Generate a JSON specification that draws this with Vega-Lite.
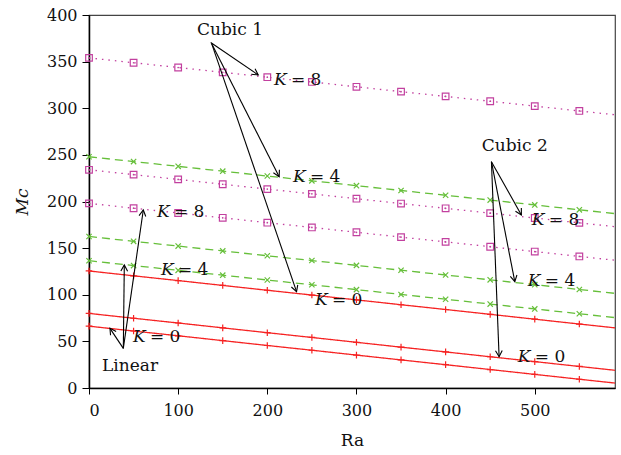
{
  "$schema": "https://vega.github.io/schema/vega-lite/v6.json",
  "width": 526,
  "height": 373,
  "autosize": {"type": "none"},
  "padding": {"left": 89, "top": 15, "right": 6, "bottom": 67},
  "config": {
    "font": "DejaVu Serif",
    "view": {"stroke": "#444444", "strokeWidth": 1.2},
    "axis": {"grid": false, "domainColor": "#000000", "domainWidth": 1.5, "tickColor": "#000000", "labelFont": "DejaVu Serif", "titleFont": "DejaVu Serif", "labelFontSize": 16, "titleFontSize": 17, "labelColor": "#111111", "titleColor": "#111111", "titleFontWeight": "normal"}
  },
  "datasets": {
    "curves": [
      {"Ra": 0, "Mc": 125.5, "K": 0, "g": "L0"}, {"Ra": 50, "Mc": 120.3, "K": 0, "g": "L0"}, {"Ra": 100, "Mc": 115.2, "K": 0, "g": "L0"}, {"Ra": 150, "Mc": 110, "K": 0, "g": "L0"}, {"Ra": 200, "Mc": 104.8, "K": 0, "g": "L0"}, {"Ra": 250, "Mc": 99.7, "K": 0, "g": "L0"}, {"Ra": 300, "Mc": 94.5, "K": 0, "g": "L0"}, {"Ra": 350, "Mc": 89.3, "K": 0, "g": "L0"}, {"Ra": 400, "Mc": 84.2, "K": 0, "g": "L0"}, {"Ra": 450, "Mc": 79, "K": 0, "g": "L0"}, {"Ra": 500, "Mc": 73.8, "K": 0, "g": "L0"}, {"Ra": 550, "Mc": 68.6, "K": 0, "g": "L0"}, {"Ra": 590, "Mc": 64.5, "K": 0, "g": "L0"},
      {"Ra": 0, "Mc": 80, "K": 0, "g": "C20"}, {"Ra": 50, "Mc": 74.8, "K": 0, "g": "C20"}, {"Ra": 100, "Mc": 69.7, "K": 0, "g": "C20"}, {"Ra": 150, "Mc": 64.5, "K": 0, "g": "C20"}, {"Ra": 200, "Mc": 59.3, "K": 0, "g": "C20"}, {"Ra": 250, "Mc": 54.2, "K": 0, "g": "C20"}, {"Ra": 300, "Mc": 49, "K": 0, "g": "C20"}, {"Ra": 350, "Mc": 43.8, "K": 0, "g": "C20"}, {"Ra": 400, "Mc": 38.7, "K": 0, "g": "C20"}, {"Ra": 450, "Mc": 33.5, "K": 0, "g": "C20"}, {"Ra": 500, "Mc": 28.3, "K": 0, "g": "C20"}, {"Ra": 550, "Mc": 23.1, "K": 0, "g": "C20"}, {"Ra": 590, "Mc": 19, "K": 0, "g": "C20"},
      {"Ra": 0, "Mc": 66.3, "K": 0, "g": "C30"}, {"Ra": 50, "Mc": 61.1, "K": 0, "g": "C30"}, {"Ra": 100, "Mc": 56, "K": 0, "g": "C30"}, {"Ra": 150, "Mc": 50.8, "K": 0, "g": "C30"}, {"Ra": 200, "Mc": 45.6, "K": 0, "g": "C30"}, {"Ra": 250, "Mc": 40.5, "K": 0, "g": "C30"}, {"Ra": 300, "Mc": 35.3, "K": 0, "g": "C30"}, {"Ra": 350, "Mc": 30.1, "K": 0, "g": "C30"}, {"Ra": 400, "Mc": 25, "K": 0, "g": "C30"}, {"Ra": 450, "Mc": 19.8, "K": 0, "g": "C30"}, {"Ra": 500, "Mc": 14.6, "K": 0, "g": "C30"}, {"Ra": 550, "Mc": 9.4, "K": 0, "g": "C30"}, {"Ra": 590, "Mc": 5.3, "K": 0, "g": "C30"},
      {"Ra": 0, "Mc": 248, "K": 4, "g": "A4"}, {"Ra": 50, "Mc": 242.8, "K": 4, "g": "A4"}, {"Ra": 100, "Mc": 237.7, "K": 4, "g": "A4"}, {"Ra": 150, "Mc": 232.5, "K": 4, "g": "A4"}, {"Ra": 200, "Mc": 227.3, "K": 4, "g": "A4"}, {"Ra": 250, "Mc": 222.2, "K": 4, "g": "A4"}, {"Ra": 300, "Mc": 217, "K": 4, "g": "A4"}, {"Ra": 350, "Mc": 211.8, "K": 4, "g": "A4"}, {"Ra": 400, "Mc": 206.7, "K": 4, "g": "A4"}, {"Ra": 450, "Mc": 201.5, "K": 4, "g": "A4"}, {"Ra": 500, "Mc": 196.3, "K": 4, "g": "A4"}, {"Ra": 550, "Mc": 191.1, "K": 4, "g": "A4"}, {"Ra": 590, "Mc": 187, "K": 4, "g": "A4"},
      {"Ra": 0, "Mc": 162.5, "K": 4, "g": "B4"}, {"Ra": 50, "Mc": 157.3, "K": 4, "g": "B4"}, {"Ra": 100, "Mc": 152.2, "K": 4, "g": "B4"}, {"Ra": 150, "Mc": 147, "K": 4, "g": "B4"}, {"Ra": 200, "Mc": 141.8, "K": 4, "g": "B4"}, {"Ra": 250, "Mc": 136.7, "K": 4, "g": "B4"}, {"Ra": 300, "Mc": 131.5, "K": 4, "g": "B4"}, {"Ra": 350, "Mc": 126.3, "K": 4, "g": "B4"}, {"Ra": 400, "Mc": 121.2, "K": 4, "g": "B4"}, {"Ra": 450, "Mc": 116, "K": 4, "g": "B4"}, {"Ra": 500, "Mc": 110.8, "K": 4, "g": "B4"}, {"Ra": 550, "Mc": 105.6, "K": 4, "g": "B4"}, {"Ra": 590, "Mc": 101.5, "K": 4, "g": "B4"},
      {"Ra": 0, "Mc": 136.5, "K": 4, "g": "C4"}, {"Ra": 50, "Mc": 131.3, "K": 4, "g": "C4"}, {"Ra": 100, "Mc": 126.2, "K": 4, "g": "C4"}, {"Ra": 150, "Mc": 121, "K": 4, "g": "C4"}, {"Ra": 200, "Mc": 115.8, "K": 4, "g": "C4"}, {"Ra": 250, "Mc": 110.7, "K": 4, "g": "C4"}, {"Ra": 300, "Mc": 105.5, "K": 4, "g": "C4"}, {"Ra": 350, "Mc": 100.3, "K": 4, "g": "C4"}, {"Ra": 400, "Mc": 95.2, "K": 4, "g": "C4"}, {"Ra": 450, "Mc": 90, "K": 4, "g": "C4"}, {"Ra": 500, "Mc": 84.8, "K": 4, "g": "C4"}, {"Ra": 550, "Mc": 79.6, "K": 4, "g": "C4"}, {"Ra": 590, "Mc": 75.5, "K": 4, "g": "C4"},
      {"Ra": 0, "Mc": 354, "K": 8, "g": "A8"}, {"Ra": 50, "Mc": 348.8, "K": 8, "g": "A8"}, {"Ra": 100, "Mc": 343.7, "K": 8, "g": "A8"}, {"Ra": 150, "Mc": 338.5, "K": 8, "g": "A8"}, {"Ra": 200, "Mc": 333.3, "K": 8, "g": "A8"}, {"Ra": 250, "Mc": 328.2, "K": 8, "g": "A8"}, {"Ra": 300, "Mc": 323, "K": 8, "g": "A8"}, {"Ra": 350, "Mc": 317.8, "K": 8, "g": "A8"}, {"Ra": 400, "Mc": 312.7, "K": 8, "g": "A8"}, {"Ra": 450, "Mc": 307.5, "K": 8, "g": "A8"}, {"Ra": 500, "Mc": 302.3, "K": 8, "g": "A8"}, {"Ra": 550, "Mc": 297.1, "K": 8, "g": "A8"}, {"Ra": 590, "Mc": 293, "K": 8, "g": "A8"},
      {"Ra": 0, "Mc": 234, "K": 8, "g": "B8"}, {"Ra": 50, "Mc": 228.8, "K": 8, "g": "B8"}, {"Ra": 100, "Mc": 223.7, "K": 8, "g": "B8"}, {"Ra": 150, "Mc": 218.5, "K": 8, "g": "B8"}, {"Ra": 200, "Mc": 213.3, "K": 8, "g": "B8"}, {"Ra": 250, "Mc": 208.2, "K": 8, "g": "B8"}, {"Ra": 300, "Mc": 203, "K": 8, "g": "B8"}, {"Ra": 350, "Mc": 197.8, "K": 8, "g": "B8"}, {"Ra": 400, "Mc": 192.7, "K": 8, "g": "B8"}, {"Ra": 450, "Mc": 187.5, "K": 8, "g": "B8"}, {"Ra": 500, "Mc": 182.3, "K": 8, "g": "B8"}, {"Ra": 550, "Mc": 177.1, "K": 8, "g": "B8"}, {"Ra": 590, "Mc": 173, "K": 8, "g": "B8"},
      {"Ra": 0, "Mc": 198, "K": 8, "g": "C8"}, {"Ra": 50, "Mc": 192.8, "K": 8, "g": "C8"}, {"Ra": 100, "Mc": 187.7, "K": 8, "g": "C8"}, {"Ra": 150, "Mc": 182.5, "K": 8, "g": "C8"}, {"Ra": 200, "Mc": 177.3, "K": 8, "g": "C8"}, {"Ra": 250, "Mc": 172.2, "K": 8, "g": "C8"}, {"Ra": 300, "Mc": 167, "K": 8, "g": "C8"}, {"Ra": 350, "Mc": 161.8, "K": 8, "g": "C8"}, {"Ra": 400, "Mc": 156.7, "K": 8, "g": "C8"}, {"Ra": 450, "Mc": 151.5, "K": 8, "g": "C8"}, {"Ra": 500, "Mc": 146.3, "K": 8, "g": "C8"}, {"Ra": 550, "Mc": 141.1, "K": 8, "g": "C8"}, {"Ra": 590, "Mc": 137, "K": 8, "g": "C8"}
    ],
    "arrows": [
      {"x1": 136.5, "y1": 370.5, "x2": 189.8, "y2": 335.7},
      {"x1": 137.5, "y1": 369.5, "x2": 213.3, "y2": 226.6},
      {"x1": 137.5, "y1": 369.5, "x2": 232.8, "y2": 103.3},
      {"x1": 38.5, "y1": 42.5, "x2": 23.5, "y2": 64},
      {"x1": 38.5, "y1": 42.5, "x2": 39.6, "y2": 131.9},
      {"x1": 38.5, "y1": 42.5, "x2": 60.9, "y2": 190.9},
      {"x1": 451.4, "y1": 242.7, "x2": 485, "y2": 185.5},
      {"x1": 451.4, "y1": 242.7, "x2": 477.6, "y2": 114},
      {"x1": 451.4, "y1": 242.7, "x2": 460, "y2": 33.6}
    ],
    "titles": [
      {"x": 158.1, "y": 384, "t": "Cubic 1"},
      {"x": 46, "y": 24.1, "t": "Linear"},
      {"x": 477.6, "y": 259.5, "t": "Cubic 2"}
    ],
    "klabels": [
      {"x": 207.4, "y": 330.3, "lab": "= 8"},
      {"x": 228.7, "y": 226.3, "lab": "= 4"},
      {"x": 253.4, "y": 94.4, "lab": "= 0"},
      {"x": 76.2, "y": 188.7, "lab": "= 8"},
      {"x": 80.7, "y": 126.5, "lab": "= 4"},
      {"x": 49.3, "y": 54.7, "lab": "= 0"},
      {"x": 496.6, "y": 180.2, "lab": "= 8"},
      {"x": 492.2, "y": 114.7, "lab": "= 4"},
      {"x": 481, "y": 33.2, "lab": "= 0"}
    ]
  },
  "layer": [
    {
      "data": {"name": "curves"},
      "mark": {"type": "line", "strokeWidth": 1.3, "clip": true},
      "encoding": {
        "x": {"field": "Ra", "type": "quantitative", "scale": {"domain": [0, 590], "nice": false}, "axis": {"title": "Ra", "values": [0, 100, 200, 300, 400, 500], "tickSize": 6, "labelPadding": 8, "titlePadding": 14}},
        "y": {"field": "Mc", "type": "quantitative", "scale": {"domain": [0, 400], "nice": false}, "axis": {"title": "Mc", "titleFontStyle": "italic", "values": [0, 50, 100, 150, 200, 250, 300, 350, 400], "tickSize": 7, "labelPadding": 5, "titlePadding": 15}},
        "color": {"field": "K", "type": "nominal", "scale": {"domain": [0, 4, 8], "range": ["#f62222", "#66bf3a", "#c2409f"]}, "legend": null},
        "strokeDash": {"field": "K", "type": "nominal", "scale": {"domain": [0, 4, 8], "range": [[1, 0], [8, 5], [1.5, 5]]}, "legend": null},
        "detail": {"field": "g"}
      }
    },
    {
      "data": {"name": "curves"},
      "transform": [{"filter": "datum.Ra <= 550"}],
      "mark": {"type": "point", "filled": false, "strokeWidth": 1.2, "size": 44, "opacity": 1},
      "encoding": {
        "x": {"field": "Ra", "type": "quantitative", "title": "Ra"},
        "y": {"field": "Mc", "type": "quantitative", "title": "Mc"},
        "color": {"field": "K", "type": "nominal", "scale": {"domain": [0, 4, 8], "range": ["#f62222", "#66bf3a", "#c2409f"]}, "legend": null},
        "shape": {"field": "K", "type": "nominal", "scale": {"domain": [0, 4, 8], "range": ["M-1,0L1,0M0,-1L0,1", "M-0.8,-0.8L0.8,0.8M-0.8,0.8L0.8,-0.8", "M-1,-1L1,-1L1,1L-1,1Z"]}, "legend": null}
      }
    },
    {
      "data": {"name": "curves"},
      "transform": [{"filter": "datum.Ra <= 550 && datum.K == 8"}],
      "mark": {"type": "point", "filled": true, "size": 3, "color": "#c2409f", "opacity": 1},
      "encoding": {
        "x": {"field": "Ra", "type": "quantitative", "title": "Ra"},
        "y": {"field": "Mc", "type": "quantitative", "title": "Mc"}
      }
    },
    {
      "data": {"name": "arrows"},
      "mark": {"type": "rule", "color": "#000000", "strokeWidth": 1.1},
      "encoding": {
        "x": {"field": "x1", "type": "quantitative", "title": "Ra"},
        "y": {"field": "y1", "type": "quantitative", "title": "Mc"},
        "x2": {"field": "x2"},
        "y2": {"field": "y2"}
      }
    },
    {
      "data": {"name": "arrows"},
      "transform": [{"calculate": "atan2((datum.x2 - datum.x1) * 0.892, (datum.y2 - datum.y1) * 0.9325) * 180 / PI", "as": "ang"}],
      "mark": {"type": "point", "shape": "M-0.55,1L0,0L0.55,1", "filled": false, "size": 150, "color": "#000000", "strokeWidth": 1.1, "opacity": 1},
      "encoding": {
        "x": {"field": "x2", "type": "quantitative", "title": "Ra"},
        "y": {"field": "y2", "type": "quantitative", "title": "Mc"},
        "angle": {"field": "ang", "type": "quantitative", "scale": null}
      }
    },
    {
      "data": {"name": "titles"},
      "mark": {"type": "text", "fontSize": 17, "align": "center", "baseline": "middle", "color": "#111111"},
      "encoding": {
        "x": {"field": "x", "type": "quantitative", "title": "Ra"},
        "y": {"field": "y", "type": "quantitative", "title": "Mc"},
        "text": {"field": "t"}
      }
    },
    {
      "data": {"name": "klabels"},
      "mark": {"type": "text", "fontSize": 17, "fontStyle": "italic", "align": "left", "baseline": "middle", "color": "#111111"},
      "encoding": {
        "x": {"field": "x", "type": "quantitative", "title": "Ra"},
        "y": {"field": "y", "type": "quantitative", "title": "Mc"},
        "text": {"value": "K"}
      }
    },
    {
      "data": {"name": "klabels"},
      "mark": {"type": "text", "fontSize": 17, "align": "left", "baseline": "middle", "dx": 17, "color": "#111111"},
      "encoding": {
        "x": {"field": "x", "type": "quantitative", "title": "Ra"},
        "y": {"field": "y", "type": "quantitative", "title": "Mc"},
        "text": {"field": "lab"}
      }
    }
  ]
}
